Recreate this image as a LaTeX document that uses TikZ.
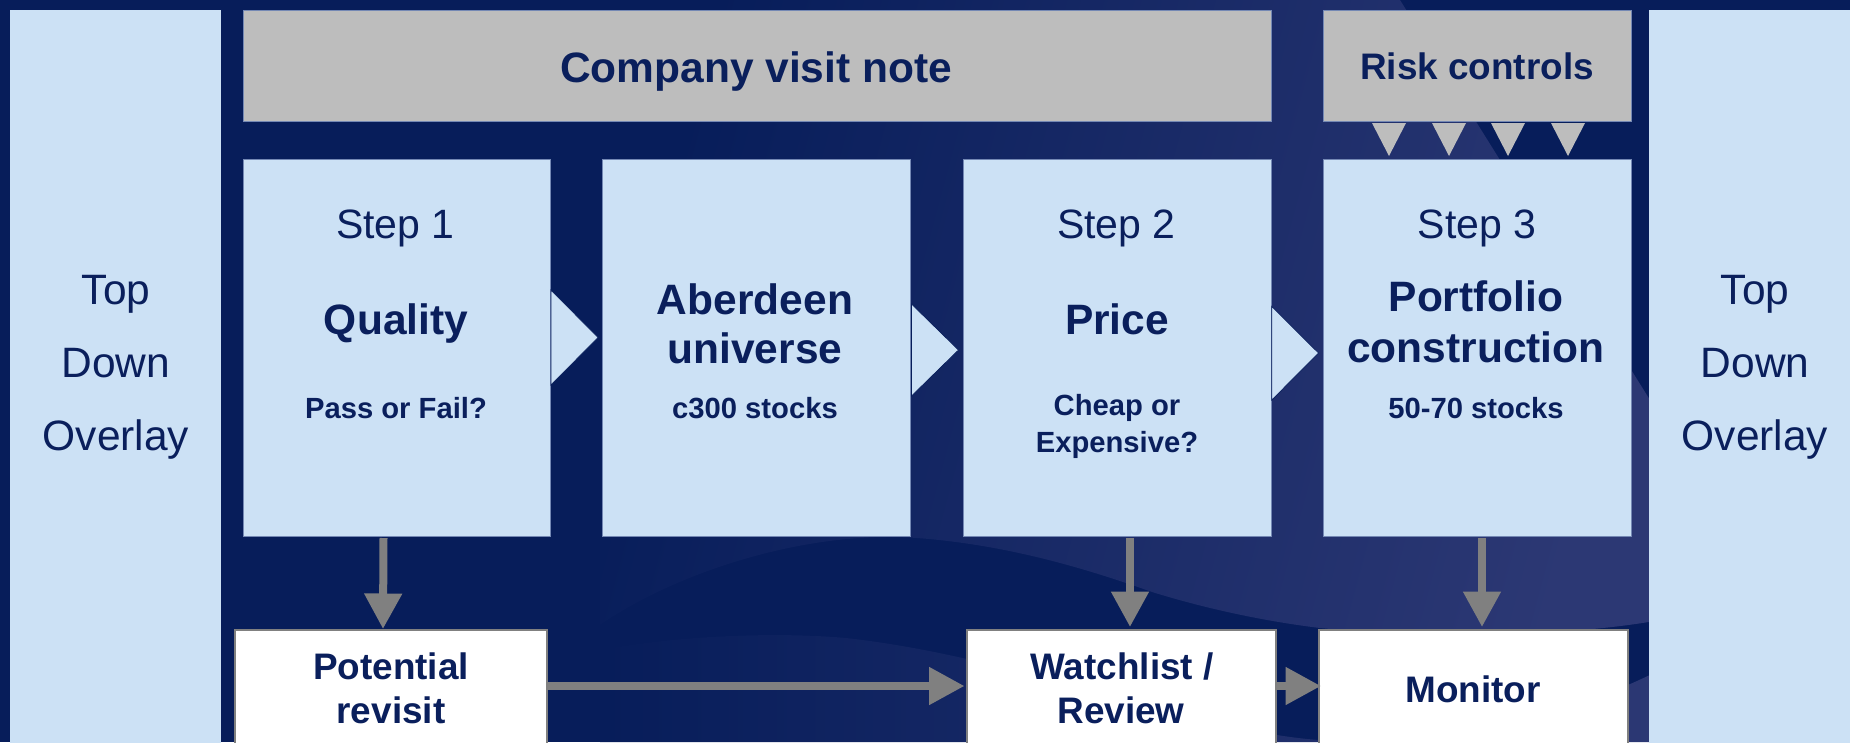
\documentclass[tikz,border=0pt]{standalone}
\usepackage{fontspec}
\setmainfont{Liberation Sans}
\usetikzlibrary{arrows.meta,calc}
\definecolor{navybg}{HTML}{071D5A}
\definecolor{navytxt}{HTML}{0A1F5C}
\definecolor{paleblue}{HTML}{CCE1F5}
\definecolor{greybox}{HTML}{BDBDBD}
\definecolor{flowgrey}{HTML}{808080}
\definecolor{wavea}{HTML}{2C3874}
\definecolor{edgeblue}{HTML}{7488B4}
\tikzset{
  panel/.style={rectangle,inner sep=0pt,outer sep=0pt},
  overlaybar/.style={panel,fill=paleblue},
  stepbox/.style={panel,fill=paleblue,draw=edgeblue,line width=0.9pt},
  notebox/.style={panel,fill=greybox,draw=edgeblue,line width=0.9pt},
  outcome/.style={panel,fill=white,draw=flowgrey,line width=1.6pt},
  lbl/.style={anchor=base,inner sep=0pt,outer sep=0pt,text=navytxt},
  big/.style={lbl,font=\fontsize{42.5}{50}\selectfont\bfseries},
  mid/.style={lbl,font=\fontsize{36.9}{44}\selectfont\bfseries},
  small/.style={lbl,font=\fontsize{29.2}{35}\selectfont\bfseries},
  plain/.style={lbl,font=\fontsize{41}{48}\selectfont},
  over/.style={lbl,font=\fontsize{42.5}{50}\selectfont},
  flow/.style={draw=flowgrey,line width=8pt,-{Triangle[length=35.5pt,width=36pt]}},
  chevron/.style={fill=paleblue,draw=navybg,line width=0.7pt,line join=miter},
  tooth/.style={fill=greybox},
}
\newcommand{\mybox}[6]{\node[#2,minimum width={(#5-#3)*1pt},minimum height={(#6-#4)*1pt}] (#1) at ({(#3+#5)/2},{(#4+#6)/2}) {};}
\begin{document}
\begin{tikzpicture}[x=1pt,y=-1pt]
\clip (0,0) rectangle (1850,742);
\useasboundingbox (0,0) rectangle (1850,742);
\fill[navybg] (0,0) rectangle (1850,742);
% background waves
\shade[left color=navybg,middle color=wavea!33!navybg,right color=wavea,shading angle=75]
  (600,625) .. controls (680,570) and (810,530) .. (917,538)
  .. controls (1010,545) and (1090,570) .. (1152,592)
  .. controls (1210,610) and (1270,622) .. (1320,628)
  .. controls (1440,640) and (1580,635) .. (1660,620)
  -- (1660,416) -- (1400,0) -- (600,0) -- cycle;
\shade[left color=navybg,right color=wavea]
  (600,650) .. controls (680,635) and (780,632) .. (846,638)
  .. controls (1000,655) and (1150,715) .. (1277,735)
  .. controls (1400,755) and (1540,730) .. (1660,670)
  -- (1660,742) -- (600,742) -- cycle;
% panels
\mybox{topL}{overlaybar}{10}{10}{221}{760}
\mybox{topR}{overlaybar}{1649}{10}{1860}{760}
\mybox{visit}{notebox}{243}{10}{1271}{121}
\mybox{risk}{notebox}{1323}{10}{1631}{121}
\mybox{sA}{stepbox}{243}{159}{550}{536}
\mybox{sB}{stepbox}{602}{159}{910}{536}
\mybox{sC}{stepbox}{963}{159}{1271}{536}
\mybox{sD}{stepbox}{1323}{159}{1631}{536}
\mybox{wA}{outcome}{235}{630}{547}{760}
\mybox{wB}{outcome}{967}{630}{1276}{760}
\mybox{wC}{outcome}{1319}{630}{1628}{760}
% chevrons between steps
\path[chevron] ($(sA.east)+(1,-57.5)$) -- ($(sB.west)+(-4,-10)$) -- ($(sA.east)+(1,37.5)$) -- cycle;
\path[chevron] ($(sB.east)+(1.5,-43.5)$) -- ($(sC.west)+(-4.5,2.5)$) -- ($(sB.east)+(1.5,48.5)$) -- cycle;
\path[chevron] ($(sC.east)+(0.8,-41)$) -- ($(sD.west)+(-4.5,5.5)$) -- ($(sC.east)+(0.8,52.5)$) -- cycle;
% risk-control teeth
\foreach \dx in {-88,-28,31,91}{
  \path[tooth] ($(risk.south)+(\dx-17,2)$) -- ($(risk.south)+(\dx+17,2)$) -- ($(sD.north)+(\dx,-3)$) -- cycle;
}
% flows
\draw[flow] ($(sA.south)+(-13,2)$) -- ($(wA.north)+(-8,-1)$);
\draw[flow] ($(sC.south)+(13,2)$) -- ($(wB.north)+(8.5,-3)$);
\draw[flow] ($(sD.south)+(5,2)$) -- ($(wC.north)+(8.5,-3)$);
\draw[flow,shorten >=2.5pt] (wA.east |- 0,686) -- (wB.west |- 0,686);
\draw[flow,shorten >=-2pt] (wB.east |- 0,686) -- (wC.west |- 0,686);
% texts
\foreach \n/\xx in {a/116,b/1755}{
  \node[over] (top\n) at (\xx,304) {Top};
  \node[over] (down\n) at (\xx,377) {Down};
  \node[over] (over\n) at (\xx,450) {Overlay};
}
\node[big] (tvisit) at (756,82) {Company visit note};
\node[mid] (trisk) at (1477,79) {Risk controls};
\node[plain] (t1a) at (395.5,238) {Step 1};
\node[big] (t1b) at (396,334) {Quality};
\node[small] (t1c) at (396,418) {Pass or Fail?};
\node[big] (t2a) at (755,314) {Aberdeen};
\node[big] (t2b) at (755,363) {universe};
\node[small] (t2c) at (755,418) {c300 stocks};
\node[plain] (t3a) at (1116.5,238) {Step 2};
\node[big] (t3b) at (1117,334) {Price};
\node[small] (t3c) at (1117,415) {Cheap or};
\node[small] (t3d) at (1117,452) {Expensive?};
\node[plain] (t4a) at (1477,238) {Step 3};
\node[big] (t4b) at (1476,311) {Portfolio};
\node[big] (t4c) at (1476,362) {construction};
\node[small] (t4d) at (1476,418) {50-70 stocks};
\node[mid] (w1a) at (391,679) {Potential};
\node[mid] (w1b) at (391,723) {revisit};
\node[mid] (w2a) at (1122,679) {Watchlist /};
\node[mid] (w2b) at (1121,723) {Review};
\node[mid] (w3a) at (1473,702) {Monitor};
\end{tikzpicture}
\end{document}
